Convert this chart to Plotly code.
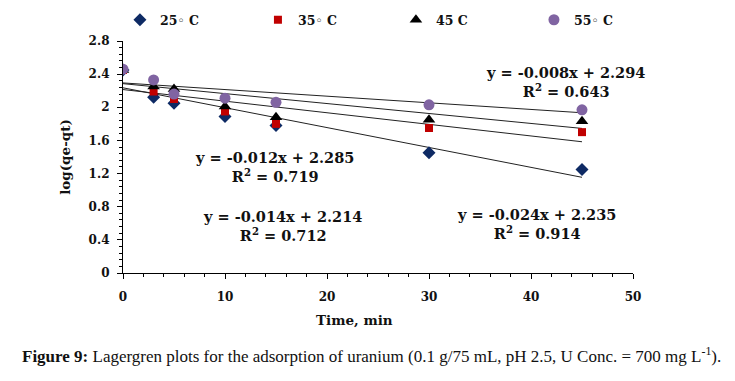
import numpy as np
import plotly.graph_objects as go

time_min = [0, 3, 5, 10, 15, 30, 45]
series_names = ["25◦ C", "35◦ C", "45 C", "55◦ C"]
y_25 = [2.45, 2.12, 2.05, 1.89, 1.78, 1.45, 1.25]
y_35 = [2.45, 2.19, 2.10, 1.95, 1.80, 1.75, 1.70]
y_45 = [2.45, 2.25, 2.22, 2.01, 1.88, 1.85, 1.83]
y_55 = [2.46, 2.33, 2.16, 2.11, 2.06, 2.03, 1.97]
series_values = [y_25, y_35, y_45, y_55]

# trendline equations as printed on chart
fit_slopes = [-0.024, -0.014, -0.012, -0.008]
fit_intercepts = [2.235, 2.214, 2.285, 2.294]
fit_r2 = [0.914, 0.712, 0.719, 0.643]
fit_x = [0, 45]

x_ticks = [0, 10, 20, 30, 40, 50]
y_ticks = [0, 0.4, 0.8, 1.2, 1.6, 2.0, 2.4, 2.8]
y_tick_labels = ["0", "0.4", "0.8", "1.2", "1.6", "2", "2.4", "2.8"]

colors = ["#0E2A64", "#C00000", "#000000", "#8064A2"]
symbols = ["diamond", "square", "triangle-up", "circle"]
sizes = [10, 8, 11, 11]

SERIF = "Liberation Serif"
WIDE = "DejaVu Serif"

fig = go.Figure()

# trendlines
for m, b in zip(fit_slopes, fit_intercepts):
    xs = np.array(fit_x, dtype=float)
    fig.add_trace(go.Scatter(x=xs, y=m * xs + b, mode="lines",
                             line=dict(color="#222222", width=1),
                             showlegend=False, hoverinfo="skip"))

for name, ys, c, s, sz in zip(series_names, series_values, colors, symbols, sizes):
    fig.add_trace(go.Scatter(x=time_min, y=ys, mode="markers", name=name,
                             marker=dict(color=c, symbol=s, size=sz, line=dict(width=0))))

# equation labels: (index of fit, x paper center, y paper center)
label_pos = [
    (0, 0.81, 0.211),
    (1, 0.312, 0.203),
    (2, 0.298, 0.457),
    (3, 0.867, 0.823),
]
for i, px, py in label_pos:
    m, b, r2 = fit_slopes[i], fit_intercepts[i], fit_r2[i]
    txt = f"y = {m:.3f}x + {b:.3f}<br>R<sup>2</sup> = {r2:.3f}"
    fig.add_annotation(x=px, y=py, xref="paper", yref="paper", text=txt,
                       showarrow=False, align="center", xanchor="center", yanchor="middle",
                       font=dict(family=WIDE, size=14.5, color="#111111", weight="bold"))

fig.add_annotation(x=-0.202, y=-0.353, xref="paper", yref="paper", xanchor="left",
                   yanchor="middle",
                   text="<b>Figure 9:</b> Lagergren plots for the adsorption of uranium (0.1 g/75 mL, pH 2.5, U Conc. = 700 mg L<sup>-1</sup>).",
                   showarrow=False, font=dict(family=SERIF, size=17, color="#111111"))

# x axis title (sits left of plot centre in the reference)
fig.add_annotation(x=0.453, y=-0.203, xref="paper", yref="paper", xanchor="center",
                   yanchor="middle", text="<b>Time, min</b>", showarrow=False,
                   font=dict(family=WIDE, size=13.5, color="#111111"))

fig.update_layout(
    width=735, height=381,
    margin=dict(l=115, r=110, t=33, b=116, autoexpand=False),
    plot_bgcolor="white", paper_bgcolor="white",
    font=dict(family=WIDE, color="#111111"),
    legend=dict(orientation="h", x=-0.006, y=1.09, xanchor="left", yanchor="middle",
                entrywidth=93, entrywidthmode="pixels",
                font=dict(family=WIDE, size=12.5, weight="bold"), bgcolor="rgba(0,0,0,0)"),
    xaxis=dict(range=[0, 50], tickvals=x_ticks, showgrid=False, zeroline=False,
               showline=True, linecolor="black", linewidth=1.2,
               ticks="outside", ticklen=5, tickcolor="black",
               minor=dict(dtick=2, ticks="outside", ticklen=3, tickcolor="black"),
               ticklabelstandoff=7,
               tickfont=dict(family=WIDE, size=12, weight="bold")),
    yaxis=dict(range=[0, 2.8], tickvals=y_ticks, ticktext=y_tick_labels, showgrid=False,
               zeroline=False, showline=True, linecolor="black", linewidth=1.2,
               ticks="outside", ticklen=5, tickcolor="black",
               minor=dict(dtick=0.08, ticks="outside", ticklen=3, tickcolor="black"),
               ticklabelstandoff=5,
               tickfont=dict(family=WIDE, size=12, weight="bold"),
               title=dict(text="<b>log(qe-qt)</b>", font=dict(family=WIDE, size=13.5), standoff=14)),
)

fig.write_html("out.html")
